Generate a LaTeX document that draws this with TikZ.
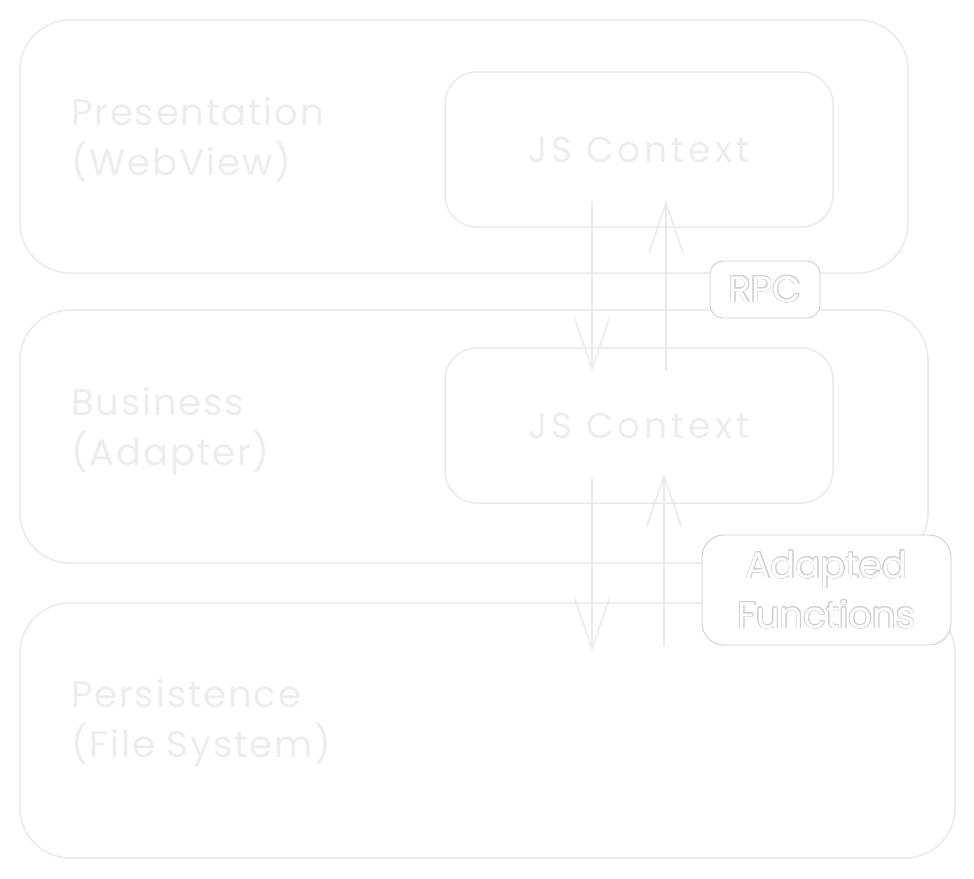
\documentclass[tikz,border=0pt]{standalone}
\usepackage{fontspec}
\setmainfont{Poppins}
\newfontfamily\labelfont{Poppins}[LetterSpace=5]
\newfontfamily\widefont{Poppins}[LetterSpace=11]
\usepackage{contour}
\contourlength{0.7pt}
\usetikzlibrary{arrows.meta,calc}

\definecolor{faint}{HTML}{EAEAEA}
\definecolor{faintText}{HTML}{EDEDED}
\definecolor{edge}{HTML}{CFCFCF}

\newcommand{\hollow}[1]{\textcolor{white}{\contour{edge}{#1}}}

\begin{document}
\begin{tikzpicture}[
            x=1pt, y=-1pt,
            layer/.style={draw=faint, line width=1.5pt, rounded corners=50pt, inner sep=0pt},
            ctxbox/.style={draw=faint, line width=1.5pt, rounded corners=32pt, minimum width=388pt, minimum height=155pt, text=faintText, font=\widefont\fontsize{36}{44}\selectfont},
            port/.style={draw=edge, fill=white, line width=0.9pt, align=center, font=\fontsize{37}{50}\selectfont},
            caption/.style={anchor=west, align=left, inner sep=0pt, text=faintText, font=\labelfont\fontsize{37}{50}\selectfont},
            flow/.style={draw=faint, line width=1.5pt, -{Straight Barb[length=50pt,width=34pt]}}
        ]
        \useasboundingbox (0,0) rectangle (974,878);

        % layers
        \node[layer, minimum width=888pt, minimum height=253pt] (presentation) at (464,146.5) {};
        \node[layer, minimum width=908pt, minimum height=253pt] (business) at (474,436.5) {};
        \node[layer, minimum width=935pt, minimum height=255pt] (persistence) at (487.5,730.5) {};

        \node[caption] (presLabel) at (71,140) {Presentation\\(WebView)};
        \node[caption] (busLabel) at (71,431) {Business\\(Adapter)};
        \node[caption] (persLabel) at (71,723) {Persistence\\(File System)};

        % js contexts
        \node[ctxbox] (ctxTop) at (639,149.5) {JS Context};
        \node[ctxbox] (ctxMid) at (639,425.5) {JS Context};

        % calls between the layers
        \draw[flow] ([xshift=-47pt, yshift=27pt]ctxTop.south) -- ([xshift=-47pt, yshift=-24pt]ctxMid.north);
        \draw[flow] ([xshift=27pt, yshift=-24pt]ctxMid.north) -- ([xshift=27pt, yshift=27pt]ctxTop.south);
        \draw[flow] ([xshift=-47pt, yshift=26pt]ctxMid.south) -- ($(ctxMid.south |- persistence.north)+(-47,49)$);
        \draw[flow] ($(ctxMid.south |- persistence.north)+(25,44)$) -- ([xshift=25pt, yshift=30pt]ctxMid.south);

        % boundaries
        \node[port, rounded corners=13pt, minimum width=110pt, minimum height=57pt] (rpc) at (765,289.5) {\hollow{RPC}};
        \node[port, rounded corners=22pt, minimum width=249pt, minimum height=110pt, inner sep=0pt] (adapted) at (826.5,590) {\hollow{Adapted}\\\hollow{Functions}};
    \end{tikzpicture}
\end{document}
